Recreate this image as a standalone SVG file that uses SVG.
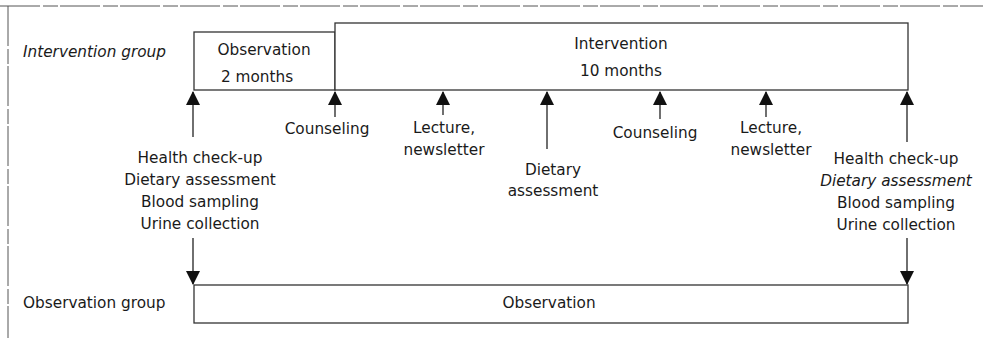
<svg xmlns="http://www.w3.org/2000/svg" width="983" height="338" viewBox="0 0 983 338">
<style>
text{font-family:"DejaVu Sans","Liberation Sans",sans-serif;font-size:15.3px;fill:#1a1a1a}
.c{text-anchor:middle}
.i{font-style:italic}
.box{fill:#fff;stroke:#333;stroke-width:1.3}
.ln{stroke:#222;stroke-width:1.3;fill:none}
.frame{stroke:#555;stroke-width:1;fill:none;stroke-dasharray:40 3 15 2}
</style>
<defs>
<marker id="ah" viewBox="0 0 14 14" refX="13" refY="7" markerWidth="14" markerHeight="14" markerUnits="userSpaceOnUse" orient="auto">
<path d="M0,0 L14,7 L0,14 Z" fill="#111"/>
</marker>
</defs>
<rect width="983" height="338" fill="#fff"/>
<path class="frame" d="M0,6 H983 M8,6 V338"/>
<g id="intervention-group-label"><text class="i" x="23" y="57">Intervention group</text></g>
<g id="obs-2m"><rect class="box" x="194" y="32" width="141" height="58"/><text class="c" x="264" y="55">Observation</text><text class="c" x="257" y="82">2 months</text></g>
<g id="int-10m"><rect class="box" x="335" y="23" width="573" height="67"/><text class="c" x="621" y="49">Intervention</text><text class="c" x="621" y="76">10 months</text></g>
<g id="observation-group-label"><text x="23" y="308">Observation group</text></g>
<g id="obs-10"><rect class="box" x="194" y="285" width="714" height="38"/><text class="c" x="549" y="308">Observation</text></g>
<g id="baseline-measures"><text class="c" x="200" y="163">Health check-up</text><text class="c" x="200" y="185">Dietary assessment</text><text class="c" x="200" y="207">Blood sampling</text><text class="c" x="200" y="229">Urine collection</text></g>
<g id="final-measures"><text class="c" x="896" y="164">Health check-up</text><text class="c i" x="896" y="186">Dietary assessment</text><text class="c" x="896" y="208">Blood sampling</text><text class="c" x="896" y="230">Urine collection</text></g>
<g id="counsel1"><text class="c" x="327" y="134">Counseling</text></g>
<g id="lecture1"><text class="c" x="444" y="133">Lecture,</text><text class="c" x="444" y="155">newsletter</text></g>
<g id="diet-mid"><text class="c" x="553" y="175">Dietary</text><text class="c" x="553" y="196">assessment</text></g>
<g id="counsel2"><text class="c" x="655" y="138">Counseling</text></g>
<g id="lecture2"><text class="c" x="771" y="133">Lecture,</text><text class="c" x="771" y="155">newsletter</text></g>
<g id="connectors">
<line class="ln" x1="193" y1="137" x2="193" y2="92" marker-end="url(#ah)"/>
<line class="ln" x1="335" y1="117" x2="335" y2="92" marker-end="url(#ah)"/>
<line class="ln" x1="443" y1="115" x2="443" y2="92" marker-end="url(#ah)"/>
<line class="ln" x1="547" y1="149" x2="547" y2="92" marker-end="url(#ah)"/>
<line class="ln" x1="660" y1="119" x2="660" y2="92" marker-end="url(#ah)"/>
<line class="ln" x1="766" y1="117" x2="766" y2="92" marker-end="url(#ah)"/>
<line class="ln" x1="907" y1="142" x2="907" y2="92" marker-end="url(#ah)"/>
<line class="ln" x1="193" y1="238" x2="193" y2="284" marker-end="url(#ah)"/>
<line class="ln" x1="907" y1="238" x2="907" y2="284" marker-end="url(#ah)"/>
</g>
</svg>
